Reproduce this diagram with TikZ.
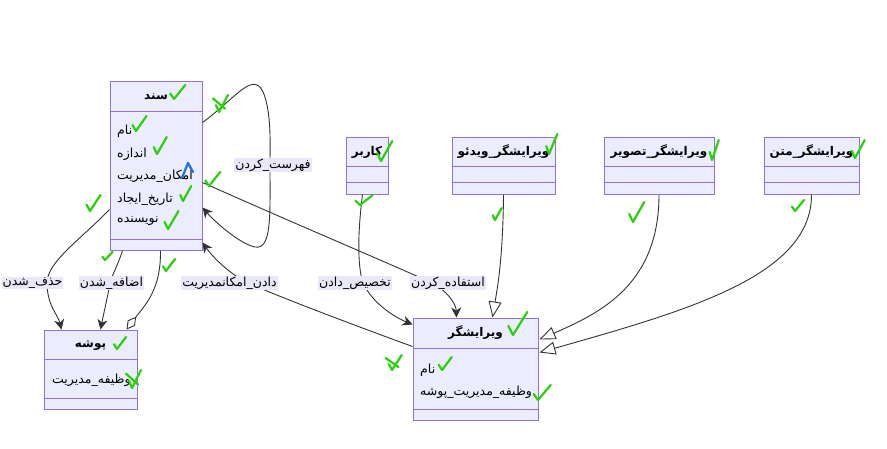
\documentclass[tikz,border=0pt]{standalone}
\usepackage{fontspec}
\usepackage{tikz}
\usetikzlibrary{arrows.meta,calc}
\newfontfamily\fafont[Script=Arabic]{DejaVu Sans}
\TeXXeTstate=1
\newcommand{\fa}[1]{{\fafont\beginR #1\endR}}
\definecolor{clsfill}{RGB}{236,236,255}
\definecolor{clsdraw}{RGB}{147,112,219}
\definecolor{edge}{RGB}{51,51,51}
\definecolor{lblbg}{RGB}{232,232,248}
\definecolor{tickgreen}{RGB}{40,210,10}
\definecolor{tickblue}{RGB}{30,110,220}
\tikzset{
  cls/.style={draw=clsdraw,fill=clsfill,line width=1pt,inner sep=0pt},
  sep/.style={draw=clsdraw,line width=1pt},
  ttl/.style={font=\fontsize{12}{14}\selectfont\bfseries,inner sep=0pt},
  att/.style={font=\fontsize{12.5}{15}\selectfont,anchor=west,inner sep=0pt},
  lbl/.style={fill=lblbg,font=\fontsize{12.5}{15}\selectfont,inner sep=1pt},
  arr/.style={draw=edge,line width=0.9pt,-{Stealth[length=10pt,width=10pt,inset=3pt]}},
  inh/.style={draw=edge,line width=0.9pt,-{Triangle[open,length=16pt,width=13pt,fill=white]}},
  agg/.style={draw=edge,line width=0.9pt,-{Diamond[open,length=16pt,width=9pt,fill=white]}},
  tickline/.style={draw=tickgreen,line width=2.2pt,line cap=round,line join=round}
}

\begin{document}
\begin{tikzpicture}[x=1pt,y=-1pt]
\fill[white] (0,0) rectangle (887,448);
\useasboundingbox (0,0) rectangle (887,448);

% classes
\node[cls,minimum width=92pt,minimum height=169pt] (sanad) at (156,165.5) {};
\draw[sep] ($(sanad.north west)+(0,31)$) -- ($(sanad.north east)+(0,31)$);
\draw[sep] ($(sanad.south west)+(0,-11)$) -- ($(sanad.south east)+(0,-11)$);
\node[ttl] at (156,97) {\fa{سند}};
\foreach \y/\t in {131/{نام},154/{اندازه},176/{امکان\_مدیریت},199/{تاریخ\_ایجاد},221/{نویسنده}}
  \node[att] at (117,\y) {\fa{\t}};

\node[cls,minimum width=93pt,minimum height=79pt] (pooshe) at (90.5,369.5) {};
\draw[sep] ($(pooshe.north west)+(0,30)$) -- ($(pooshe.north east)+(0,30)$);
\draw[sep] ($(pooshe.south west)+(0,-11)$) -- ($(pooshe.south east)+(0,-11)$);
\node[ttl] at (90.5,345) {\fa{پوشه}};
\node[att] at (52,380) {\fa{وظیفه\_مدیریت}};

\foreach \nm/\cx/\bw/\t in {karbar/367/42/{کاربر},video/503.5/103/{ویرایشگر\_ویدئو},tasvir/659/110/{ویرایشگر\_تصویر},matn/811.5/95/{ویرایشگر\_متن}}{
  \node[cls,minimum width=\bw pt,minimum height=57pt] (\nm) at (\cx,165.5) {};
  \draw[sep] ($(\nm.north west)+(0,30)$) -- ($(\nm.north east)+(0,30)$);
  \draw[sep] ($(\nm.north west)+(0,46)$) -- ($(\nm.north east)+(0,46)$);
  \node[ttl] at (\cx,152) {\fa{\t}};
}

\node[cls,minimum width=125pt,minimum height=102pt] (virayeshgar) at (475.5,369) {};
\draw[sep] ($(virayeshgar.north west)+(0,31)$) -- ($(virayeshgar.north east)+(0,31)$);
\draw[sep] ($(virayeshgar.south west)+(0,-11)$) -- ($(virayeshgar.south east)+(0,-11)$);
\node[ttl] at (475.5,333) {\fa{ویرایشگر}};
\node[att] at (420,370) {\fa{نام}};
\node[att] at (420,392) {\fa{وظیفه\_مدیریت\_پوشه}};

% relations
\draw[arr] ($(sanad.north east)+(0,42)$) .. controls (240,95) and (258,62) .. (267,105)
  .. controls (271,125) and (270,145) .. (270,165) node[lbl,xshift=3pt] {\fa{فهرست\_کردن}}
  .. controls (270,215) and (272,250) .. (255,247) .. controls (240,244) and (215,222) .. ($(sanad.north east)+(0,127)$);
\draw[arr] ($(sanad.north west)+(0,129)$) .. controls (80,240) and (47,262) .. (47,283) node[lbl,xshift=-14.5pt] {\fa{حذف\_شدن}}
  .. controls (47,305) and (58,315) .. ($(pooshe.north west)+(18,0)$);
\draw[arr] ($(sanad.south west)+(13,0)$) .. controls (118,265) and (112,275) .. (110,283) node[lbl,xshift=1.5pt] {\fa{اضافه\_شدن}}
  .. controls (108,295) and (104,312) .. ($(pooshe.north west)+(57,0)$);
\draw[agg] ($(sanad.south west)+(51,0)$) .. controls (161,290) and (145,305) .. ($(pooshe.north east)+(-11,0)$);
\draw[arr] ($(virayeshgar.north west)+(0,29)$) .. controls (340,320) and (275,295) .. (248,283) node[lbl,xshift=-18.5pt] {\fa{دادن\_امکانمدیریت}}
  .. controls (228,273) and (212,256) .. ($(sanad.south east)+(0,-8)$);
\draw[arr] ($(karbar.south west)+(17,0)$) .. controls (358,230) and (357,265) .. (363,283) node[lbl,xshift=-8pt] {\fa{تخصیص\_دادن}}
  .. controls (372,302) and (392,316) .. ($(virayeshgar.north west)+(0,7)$);
\draw[arr] ($(sanad.north east)+(0,102)$) .. controls (300,226) and (400,268) .. (432,283) node[lbl,xshift=16pt] {\fa{استفاده\_کردن}}
  .. controls (446,290) and (456,303) .. ($(virayeshgar.north west)+(44,0)$);
\draw[inh] (video.south) .. controls (503,260) and (497,290) .. ($(virayeshgar.north west)+(80,0)$);
\draw[inh] (tasvir.south) .. controls (659,285) and (600,313) .. ($(virayeshgar.north east)+(1,22)$);
\draw[inh] (matn.south) .. controls (812,275) and (690,310) .. ($(virayeshgar.north east)+(1,35)$);

% green ticks
\foreach \x/\y/\w/\h in {174/99/15/14,136/131/14/15,157/154/13/17,209/186/15/14,183/201/11/15,168/229/14/18,
  90/211/14/16,105/260/10/8,166/271/12/12,117/349/12/12,381/161/15/20,360/205/17/10,549/154/11/20,
  495/220/9/12,712/160/9/20,633/222/15/20,855/158/13/18,795/211/12/11,513/335/19/23,442/370/13/13,538/400/17/15,
  219/112/12/17,132/388/12/18,392/370/13/15}
  \draw[tickline] (\x-0.25*\w,\y-0.4*\h) -- (\x,\y) -- (\x+0.75*\w,\y-\h);
\foreach \x/\y/\w/\h in {219/112/12/17,132/388/12/18,392/370/13/15}
  \draw[tickline] (\x-0.5*\w,\y-0.8*\h) -- (\x+0.5*\w,\y-0.2*\h);
\draw[draw=tickblue,line width=2.2pt,line cap=round,line join=round] (182,178) -- (188,163) -- (193,172);
\end{tikzpicture}
\end{document}
